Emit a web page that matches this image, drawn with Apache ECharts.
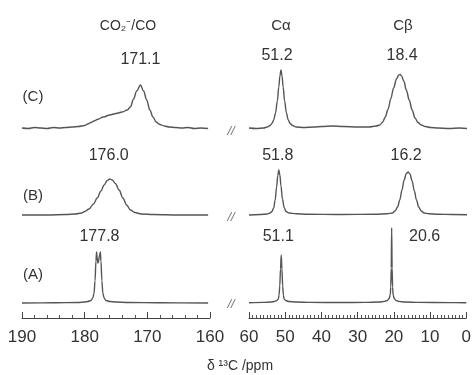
<!DOCTYPE html>
<html><head><meta charset="utf-8">
<script src="https://cdn.jsdelivr.net/npm/echarts@6/dist/echarts.min.js"></script>
<style>html,body{margin:0;padding:0;background:#fff}#c{width:474px;height:375px}</style>
</head><body><div id="c"></div>
<script>
// ---- data: [ppm, intensity] ----
const specC_left = [[190,1],[189,0.5],[188,1.5],[187,1],[186,0.5],[185,1.5],[184,1],[183,1.5],[182,2],[181,2.5],[180,3.5],[179.5,5],[179,6.5],[178.5,8],[178,9.5],[177,12],[176,14],[175,15.5],[174,17],[173.2,19],[172.7,22],[172.2,30],[171.7,38],[171.1,44],[170.6,38],[170.1,29],[169.6,19],[169.1,12],[168.6,7],[168,4.5],[167.3,3],[166.5,2],[165.5,1.5],[164.5,1],[163.5,1.5],[162.5,0.5],[161.5,1],[160.3,0.5]];
const specC_right = [[60,1],[58,0.5],[56,1],[55,2],[54.2,3.5],[53.6,6],[53.2,9],[52.7,16],[52.2,28],[51.8,42],[51.5,53],[51.2,59],[50.9,53],[50.6,42],[50.2,28],[49.7,16],[49.2,9],[48.7,5.5],[48,3.5],[47,2],[45,1.5],[42,2],[40,2.5],[37,3],[34,2.5],[30,2],[27,2],[25,3],[24,4],[23.2,7],[22.5,12],[21.7,20],[21,30],[20.2,41],[19.4,50],[18.8,54],[18.4,54.5],[18,53],[17.4,48],[16.7,39],[15.9,29],[15.1,19],[14.3,11],[13.5,6.5],[12.6,4],[11.5,2.5],[10,1.5],[8,1],[5,0.5],[2,1],[0,0.5]];
const specB_left = [[190,0],[186,0],[183,0.5],[181.5,1],[180.5,2],[180,3.5],[179.3,6],[178.6,11],[178,17],[177.4,24],[176.9,30],[176.4,34.5],[176,36],[175.6,35],[175.1,31.5],[174.5,25],[173.9,17],[173.3,10],[172.7,5],[172,2.5],[171,1],[169,0.5],[165,0],[160.3,0]];
const specB_right = [[60,0],[57,0.5],[55,1],[54.2,2],[53.7,3.5],[53.2,7],[52.8,15],[52.4,28],[52.1,39],[51.8,45],[51.5,40],[51.2,29],[50.8,16],[50.3,7],[49.8,3.5],[49,2],[47,1.2],[44,0.8],[35,0.5],[25,0.8],[22,1.2],[20.5,2],[19.8,4],[19.1,8],[18.5,15],[17.9,25],[17.3,35],[16.7,41.5],[16.2,43],[15.7,41],[15.1,34],[14.5,24],[13.9,15],[13.3,8],[12.6,4],[11.8,2],[10.5,1.2],[8,0.8],[4,0.5],[0,0.3]];
const specA_left = [[190,0],[185,0.2],[181,0.5],[180,1],[179.5,1.5],[179,2.5],[178.7,5],[178.5,10],[178.35,22],[178.2,42],[178.1,51],[178.0,45],[177.9,40],[177.8,41],[177.65,47],[177.5,51],[177.4,42],[177.25,22],[177.1,10],[176.9,5],[176.6,2.5],[176,1.5],[175,1],[173,0.5],[168,0.2],[160.3,0]];
const specA_right = [[60,0.3],[56,0.6],[54,1],[53,1.5],[52.3,2.5],[51.9,4],[51.7,8],[51.5,17],[51.3,34],[51.1,48],[50.9,34],[50.7,17],[50.5,8],[50.3,4],[49.9,2.5],[49,1.5],[47,1],[43,0.6],[35,0.5],[28,0.6],[24,1],[22.6,1.6],[21.8,2.5],[21.3,4.5],[21,8],[20.85,16],[20.72,35],[20.6,75],[20.48,35],[20.35,16],[20.2,8],[19.9,4.5],[19.4,2.5],[18.6,1.6],[17,1],[13,0.6],[5,0.4],[0,0.3]];

const spectraNames = ['(C)','(B)','(A)'];
const groupTitles = ['CO₂⁻/CO','Cα','Cβ'];
const peakTexts = ['171.1','51.2','18.4','176.0','51.8','16.2','177.8','51.1','20.6'];
const peakPpm   = [171.1, 51.2, 18.4, 176.0, 51.8, 16.2, 177.8, 51.1, 20.6];
const leftTicks = [190,180,170,160];
const rightTicks = [60,50,40,30,20,10,0];
const axisTitle = 'δ ¹³C /ppm';

const FONT = 'Liberation Sans, Arial, Helvetica, sans-serif';
const LINE = '#555';
const TXT = '#333';

const cols = [
  {left:22, width:188, min:leftTicks[leftTicks.length-1], max:leftTicks[0], split:5},
  {left:249, width:218, min:rightTicks[rightTicks.length-1], max:rightTicks[0], split:10}
];
const rows = [{top:39},{top:125},{top:213}];
const specs = [specC_left, specC_right, specB_left, specB_right, specA_left, specA_right];

const grid = [], xAxis = [], yAxis = [], series = [];
rows.forEach((r, ri) => {
  cols.forEach((c, ci) => {
    const gi = ri*2 + ci;
    const showAx = ri === rows.length - 1;
    grid.push({left:c.left, width:c.width, top:r.top, height:105});
    xAxis.push({
      gridIndex: gi, type:'value', inverse:true, min:c.min, max:c.max, interval:10,
      show: showAx,
      axisLine:{show:true, onZero:false, lineStyle:{color:'#444', width:1}},
      axisTick:{show:true, inside:true, length:6, lineStyle:{color:'#444'}},
      minorTick:{show:true, splitNumber:c.split, length:3, lineStyle:{color:'#555'}},
      axisLabel:{color:TXT, fontSize:17, margin:11, fontFamily:FONT},
      splitLine:{show:false}
    });
    yAxis.push({gridIndex: gi, type:'value', min:-15, max:90, show:false});
    series.push({
      type:'line', xAxisIndex:gi, yAxisIndex:gi, data:specs[gi],
      symbol:'none', smooth:0.35, smoothMonotone:'x', silent:true,
      lineStyle:{color:LINE, width:1.4}
    });
  });
});

const chart = echarts.init(document.getElementById('c'), null, {renderer:'canvas'});
chart.setOption({animation:false, grid, xAxis, yAxis, series});

function txt(text, x, y, size, extra) {
  return Object.assign({type:'text', x:x, y:y, silent:true,
    style:{text:text, fill:TXT, font: size+'px '+FONT, align:'center', verticalAlign:'middle'}}, extra||{});
}
const g = [];
g.push(txt(groupTitles[0], 128, 26, 14));
g.push(txt(groupTitles[1], 281, 26, 15));
g.push(txt(groupTitles[2], 403, 26, 15));
const nameY = [97, 196, 275];
spectraNames.forEach((n,i)=> g.push(txt(n, 33, nameY[i], 15)));
const labY = [60,56,56,156,156,156,237,237,237];
const labDx = [0,-4,2,-1,-1,-2,1,-3,33];
peakTexts.forEach((t,i)=>{
  const row = Math.floor(i/3), col = i%3===0 ? 0 : 1;
  const gi = row*2 + col;
  const px = chart.convertToPixel({gridIndex:gi}, [peakPpm[i], 0])[0];
  g.push(txt(t, px + labDx[i], labY[i], 16));
});
[131, 217, 304].forEach(y=> g.push(txt('//', 231, y, 13, {style:{text:'//', fill:'#777', font:'italic 13px '+FONT, align:'center', verticalAlign:'middle'}})));
g.push(txt(axisTitle, 240, 366, 14));
chart.setOption({graphic: g});
</script></body></html>
